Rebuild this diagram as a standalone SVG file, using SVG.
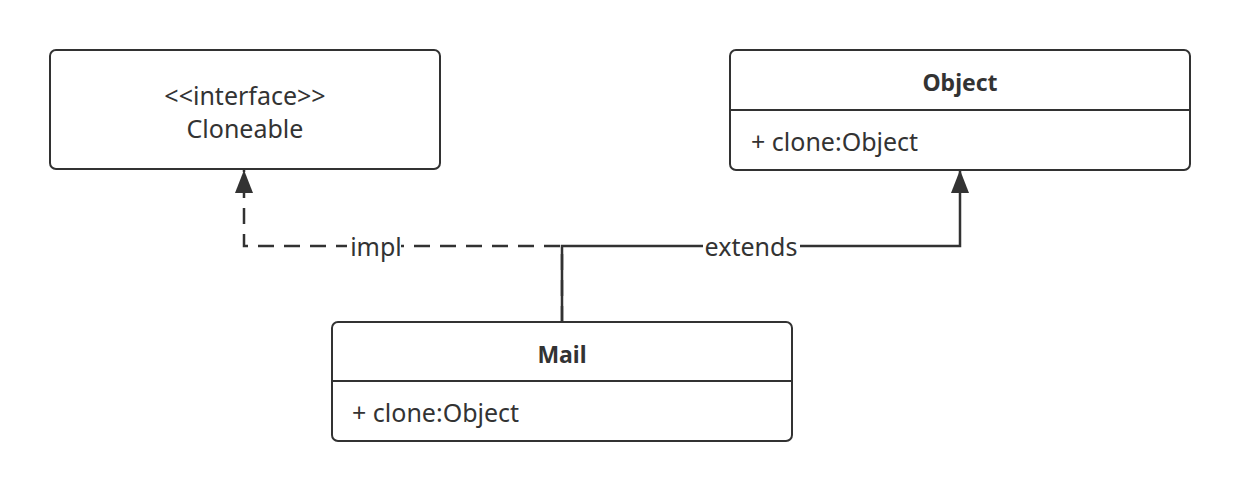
<svg xmlns="http://www.w3.org/2000/svg" width="1240" height="492" viewBox="0 0 1240 492">
<style>
.box{fill:#fff;stroke:#323232;stroke-width:2}
.div{stroke:#323232;stroke-width:2}
.t{font-family:"Noto Sans","Liberation Sans",sans-serif;font-size:25px;fill:#333}
.b{font-weight:bold;font-size:23px}
.c{text-anchor:middle}
.ln{fill:none;stroke:#323232;stroke-width:2.5}
.dash{stroke-dasharray:16 10}
.lbl{fill:#fff}
</style>
<defs>
<marker id="arr" markerWidth="24" markerHeight="18" refX="23" refY="9" viewBox="0 0 24 18" orient="auto" markerUnits="userSpaceOnUse">
<path d="M0,0 L23,9 L0,18 Z" fill="#333"/>
</marker>
</defs>
<rect width="1240" height="492" fill="#fff"/>
<g id="connectors">
<path class="ln dash" d="M562,322 L562,246 L244,246 L244,170" marker-end="url(#arr)"/>
<path class="ln" d="M562,322 L562,246 L960,246 L960,170" marker-end="url(#arr)"/>
<rect class="lbl" x="347" y="233" width="54" height="28"/>
<text class="t c" x="376" y="256">impl</text>
<rect class="lbl" x="703" y="233" width="97" height="28"/>
<text class="t c" x="751" y="256">extends</text>
</g>
<g id="cloneable">
<rect class="box" x="50" y="50" width="390" height="119" rx="6"/>
<text class="t c" x="245" y="105">&lt;&lt;interface&gt;&gt;</text>
<text class="t c" x="245" y="138">Cloneable</text>
</g>
<g id="object">
<rect class="box" x="730" y="50" width="460" height="120" rx="6"/>
<line class="div" x1="730" y1="110" x2="1190" y2="110"/>
<text class="t b c" x="960" y="91">Object</text>
<text class="t" x="751" y="151">+ clone:Object</text>
</g>
<g id="mail">
<rect class="box" x="332" y="322" width="460" height="119" rx="6"/>
<line class="div" x1="332" y1="381" x2="792" y2="381"/>
<text class="t b c" x="562" y="363">Mail</text>
<text class="t" x="352" y="422">+ clone:Object</text>
</g>
</svg>
